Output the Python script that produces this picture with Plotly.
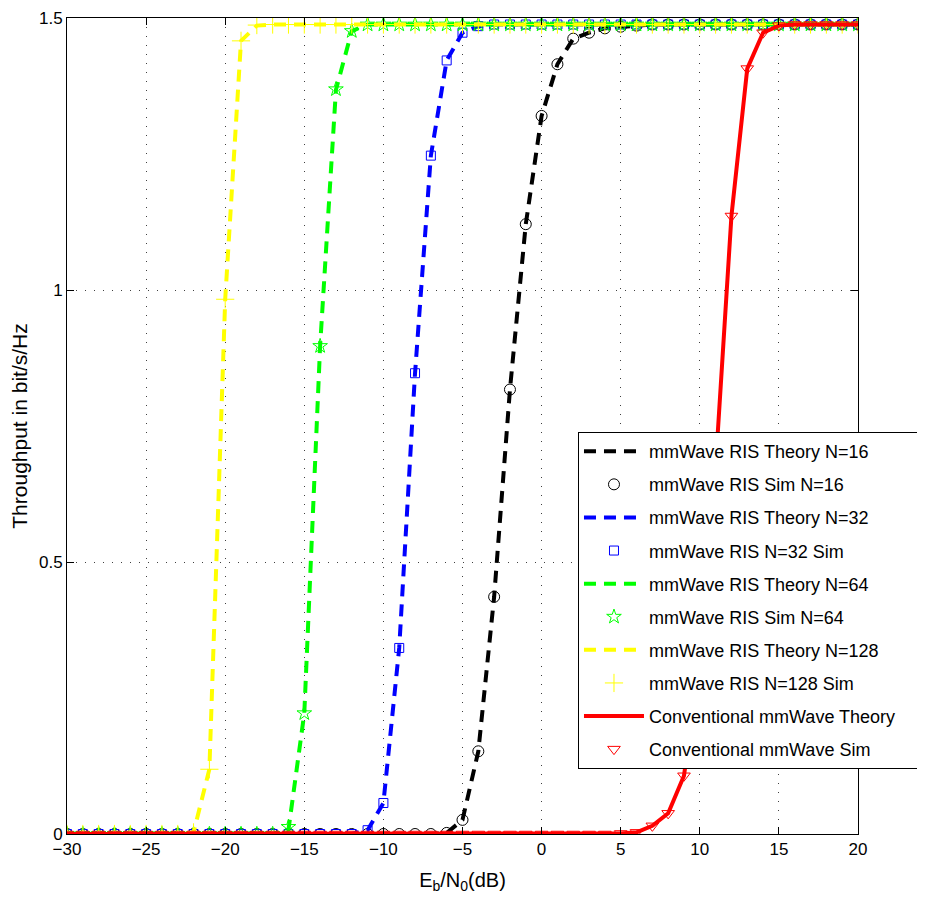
import plotly.graph_objects as go

ebn0_db = list(range(-30, 21))

# Theory curves
ris16_theory = [0]*24 + [0.002, 0.026, 0.152, 0.436, 0.817, 1.121, 1.320, 1.415, 1.462, 1.473, 1.481, 1.484, 1.486] + [1.488]*14
ris32_theory = [0]*19 + [0.007, 0.057, 0.342, 0.847, 1.247, 1.422, 1.473, 1.485] + [1.488]*24
ris64_theory = [0]*14 + [0.008, 0.222, 0.897, 1.368, 1.476] + [1.488]*32
ris128_theory = [0]*8 + [0.003, 0.119, 0.983, 1.458, 1.486] + [1.488]*38
conv_theory = [0]*35 + [0.001, 0.003, 0.015, 0.038, 0.107, 0.32, 0.675, 1.136, 1.407, 1.473, 1.486] + [1.488]*5

# Simulation markers
ris16_sim = [0]*24 + [0.002, 0.026, 0.152, 0.436, 0.817, 1.121, 1.320, 1.415, 1.462, 1.473, 1.481, 1.484, 1.486] + [1.488]*14
ris32_sim = [0]*19 + [0.007, 0.057, 0.342, 0.847, 1.247, 1.422, 1.473, 1.485] + [1.488]*24
ris64_sim = [0]*14 + [0.013, 0.222, 0.897, 1.369, 1.476] + [1.488]*32
ris128_sim = [0]*8 + [0.003, 0.119, 0.983, 1.458, 1.487] + [1.488]*38
conv_sim = [0]*35 + [0.001, 0.003, 0.015, 0.038, 0.107, 0.32, 0.675, 1.136, 1.407, 1.473, 1.486] + [1.488]*5

x_ticks = [-30, -25, -20, -15, -10, -5, 0, 5, 10, 15, 20]
y_ticks = [0, 0.5, 1, 1.5]
y_tick_labels = ["0", "0.5", "1", "1.5"]

FONT = "Liberation Sans, Arial, sans-serif"
DASH = "12px,8px"

fig = go.Figure()

def theory(y, color, name, dash=DASH, width=4):
    fig.add_trace(go.Scatter(x=ebn0_db, y=y, mode="lines", name=name,
                             legendgroup=name,
                             line=dict(color=color, width=width, dash=dash)))

def sim(y, color, symbol, size, name):
    fig.add_trace(go.Scatter(x=ebn0_db, y=y, mode="markers", name=name,
                             legendgroup=name,
                             marker=dict(symbol=symbol, size=size, color=color,
                                         line=dict(color=color, width=1))))

theory(ris16_theory, "#000000", "mmWave RIS Theory N=16")
sim(ris16_sim, "#000000", "circle-open", 11, "mmWave RIS Sim N=16")
theory(ris32_theory, "#0000FF", "mmWave RIS Theory N=32")
sim(ris32_sim, "#0000FF", "square-open", 9, "mmWave RIS N=32 Sim")
theory(ris64_theory, "#00FF00", "mmWave RIS Theory N=64")
sim(ris64_sim, "#00FF00", "star-open", 11, "mmWave RIS Sim N=64")
theory(ris128_theory, "#FFFF00", "mmWave RIS Theory N=128")
sim(ris128_sim, "#FFFF00", "cross-thin-open", 13, "mmWave RIS N=128 Sim")
theory(conv_theory, "#FF0000", "Conventional mmWave Theory\u00a0\u00a0\u00a0\u00a0", dash="solid", width=4)
sim(conv_sim, "#FF0000", "triangle-down-open", 11, "Conventional mmWave Sim")

axis_common = dict(
    showline=True, linecolor="black", linewidth=1, mirror="ticks",
    ticks="inside", ticklen=7, tickcolor="black",
    showgrid=True, gridcolor="rgba(0,0,0,0.75)", griddash="1px,8px", gridwidth=1,
    zeroline=False, automargin=False,
    tickfont=dict(family=FONT, size=17, color="black"),
)

fig.update_layout(
    width=925, height=904,
    margin=dict(l=59, r=75, t=10, b=78),
    paper_bgcolor="white", plot_bgcolor="white",
    font=dict(family=FONT, color="black"),
    showlegend=True,
    legend=dict(
        x=0.646, y=0.4926, xanchor="left", yanchor="top",
        bgcolor="white", bordercolor="black", borderwidth=1,
        font=dict(family=FONT, size=18, color="black"),
        itemwidth=60, traceorder="grouped", tracegroupgap=6.7,
    ),
    xaxis=dict(range=[-30, 20], tickvals=x_ticks,
               title=dict(text="E<sub>b</sub>/N<sub>0</sub>(dB)",
                          font=dict(family=FONT, size=20), standoff=14),
               **axis_common),
    yaxis=dict(range=[0, 1.5], tickvals=y_ticks, ticktext=y_tick_labels,
               title=dict(text="Throughput in bit/s/Hz",
                          font=dict(family=FONT, size=21), standoff=12),
               **axis_common),
)

fig.write_html("out.html")
